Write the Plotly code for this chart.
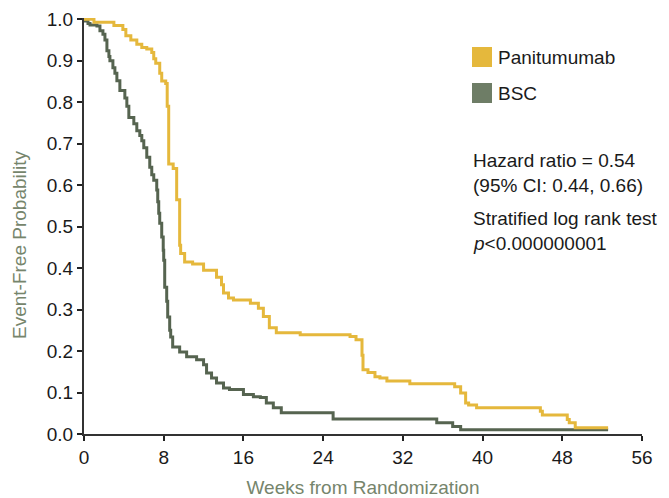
import plotly.graph_objects as go

# ---- data ----
pan_weeks = [0, 1.0, 3.0, 3.9, 4.2, 4.7, 5.3, 5.8, 6.3, 6.8, 7.0, 7.2, 7.6, 7.8, 8.2,
             8.35, 8.5, 8.95, 9.3, 9.6, 9.7, 10.1, 10.9, 12.0, 13.3, 13.8, 14.0, 14.5,
             15.0, 16.7, 17.5, 18.0, 18.6, 19.3, 21.7, 26.7, 27.3, 27.9, 28.0, 28.5,
             29.2, 29.7, 30.4, 32.7, 37.2, 37.8, 38.3, 38.6, 39.4, 45.8, 46.0, 48.5,
             48.7, 49.3, 52.6]
pan_surv = [1.0, 0.993, 0.985, 0.975, 0.96, 0.95, 0.94, 0.932, 0.928, 0.92, 0.905, 0.894,
            0.87, 0.851, 0.845, 0.79, 0.651, 0.64, 0.565, 0.455, 0.435, 0.415, 0.41,
            0.395, 0.378, 0.36, 0.34, 0.328, 0.323, 0.315, 0.303, 0.283, 0.256, 0.244,
            0.239, 0.235, 0.227, 0.19, 0.155, 0.148, 0.138, 0.135, 0.128, 0.121, 0.114,
            0.099, 0.075, 0.07, 0.063, 0.055, 0.046, 0.035, 0.027, 0.015, 0.015]

bsc_weeks = [0, 0.1, 0.4, 0.6, 1.3, 1.6, 1.9, 2.1, 2.3, 2.5, 2.6, 2.9, 3.1, 3.3, 3.6, 4.1,
             4.3, 4.5, 5.0, 5.3, 5.6, 5.8, 6.0, 6.3, 6.6, 6.8, 7.0, 7.3, 7.4, 7.5, 7.6,
             7.8, 7.95, 8.0, 8.1, 8.3, 8.4, 8.6, 8.7, 8.9, 9.6, 10.3, 11.3, 12.0, 12.3,
             12.8, 13.3, 14.0, 14.6, 16.0, 17.0, 17.7, 18.3, 19.0, 19.8, 25.0, 35.4,
             37.0, 37.8, 52.6]
bsc_surv = [1.0, 0.996, 0.99, 0.986, 0.984, 0.972, 0.964, 0.95, 0.924, 0.91, 0.90, 0.883,
            0.87, 0.852, 0.828, 0.81, 0.79, 0.763, 0.748, 0.731, 0.72, 0.707, 0.69, 0.667,
            0.643, 0.625, 0.612, 0.588, 0.56, 0.532, 0.508, 0.475, 0.443, 0.419, 0.354,
            0.32, 0.282, 0.25, 0.234, 0.21, 0.198, 0.186, 0.179, 0.167, 0.147, 0.135,
            0.123, 0.111, 0.107, 0.095, 0.09, 0.088, 0.075, 0.063, 0.051, 0.036, 0.027,
            0.018, 0.01, 0.01]

series_names = ["Panitumumab", "BSC"]
x_ticks = [0, 8, 16, 24, 32, 40, 48, 56]
y_ticks = [0.0, 0.1, 0.2, 0.3, 0.4, 0.5, 0.6, 0.7, 0.8, 0.9, 1.0]
stats_lines = ["Hazard ratio = 0.54", "(95% CI: 0.44, 0.66)",
               "Stratified log rank test", "<i>p</i><0.000000001"]
x_title = "Weeks from Randomization"
y_title = "Event-Free Probability"

# ---- style ----
YELLOW = "#E5B83C"
GREEN = "#566450"
GREEN_LEG = "#6E7D66"
TITLE_COL = "#76856C"
FONT = "Liberation Sans, Arial, sans-serif"

fig = go.Figure()
fig.add_trace(go.Scatter(x=bsc_weeks, y=bsc_surv, mode="lines", line_shape="hv",
                         line=dict(color=GREEN, width=3), name=series_names[1],
                         showlegend=False))
fig.add_trace(go.Scatter(x=pan_weeks, y=pan_surv, mode="lines", line_shape="hv",
                         line=dict(color=YELLOW, width=3), name=series_names[0],
                         showlegend=False))

# page body has an 8px margin, so the figure fills the rest of the 669x498 window
OFF = 8
W, H = 669 - OFF, 498 - OFF
ml, mt = 84 - OFF, 18 - OFF
plot_right, plot_bottom = 642 - OFF, 434 - OFF
mr, mb = W - plot_right, H - plot_bottom
pw, ph = plot_right - ml, plot_bottom - mt


def px(x):
    return (x - OFF - ml) / pw


def py(y):
    return (plot_bottom - (y - OFF)) / ph


# legend (squares + labels)
for col, name, cy in [(YELLOW, series_names[0], 57), (GREEN_LEG, series_names[1], 93)]:
    fig.add_shape(type="rect", xref="paper", yref="paper",
                  x0=px(472), x1=px(492), y0=py(cy + 10), y1=py(cy - 10),
                  fillcolor=col, line=dict(width=0))
    fig.add_annotation(xref="paper", yref="paper", x=px(496), y=py(cy), text=name,
                       showarrow=False, xanchor="left", yanchor="middle",
                       font=dict(size=19, color="#1a1a1a", family=FONT))

for txt, cy in zip(stats_lines, [160, 185, 219, 243]):
    fig.add_annotation(xref="paper", yref="paper", x=px(471), y=py(cy), text=txt,
                       showarrow=False, xanchor="left", yanchor="middle",
                       font=dict(size=19, color="#1a1a1a", family=FONT))

# y-axis title (sits a little below the plot centre, as in the reference)
fig.add_annotation(xref="paper", yref="paper", x=px(20), y=py(245), text=y_title,
                   textangle=-90, showarrow=False, xanchor="center", yanchor="middle",
                   font=dict(size=19, color=TITLE_COL, family=FONT))

fig.update_layout(
    width=W, height=H,
    margin=dict(l=ml, r=mr, t=mt, b=mb, autoexpand=False),
    plot_bgcolor="white", paper_bgcolor="white",
    font=dict(family=FONT, size=19, color="#1a1a1a"),
    xaxis=dict(range=[0, 56], tickvals=x_ticks, ticktext=[str(v) for v in x_ticks],
               automargin=False,
               showgrid=False, zeroline=False, showline=True, linecolor="#333",
               linewidth=2, ticks="outside", ticklen=5, tickwidth=2, tickcolor="#222",
               tickfont=dict(size=19, color="#1a1a1a"),
               title=dict(text=x_title, standoff=14,
                          font=dict(size=19, color=TITLE_COL))),
    yaxis=dict(range=[0, 1.003], tickvals=y_ticks, ticktext=[f"{v:.1f}" for v in y_ticks],
               automargin=False,
               showgrid=False, zeroline=False, showline=True, linecolor="#333",
               linewidth=2, ticks="outside", ticklen=5, tickwidth=2, tickcolor="#222",
               tickfont=dict(size=19, color="#1a1a1a")),
)

fig.write_html("out.html")
